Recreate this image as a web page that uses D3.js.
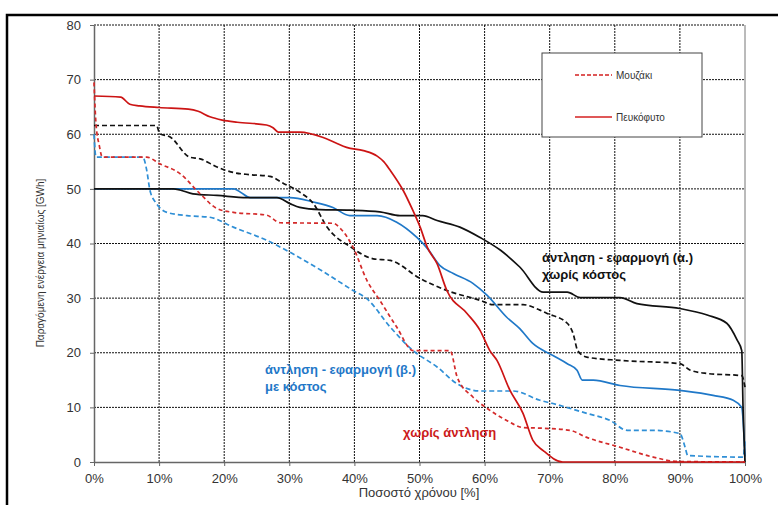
<!DOCTYPE html>
<html>
<head>
<meta charset="utf-8">
<script src="https://cdn.jsdelivr.net/npm/d3@7"></script>
<style>
  body { margin: 0; background: #fff; }
  svg { font-family: "Liberation Sans", Arial, sans-serif; }
</style>
</head>
<body>
<div id="chart"></div>
<script>
/* ------------------------------ Data ------------------------------ */

// Pefkofyto (solid) and Mouzaki (dashed): [time %, GWh]
const noPumpPefkofyto = [[0,67],[4.1,66.8],[5.5,65.5],[7,65.2],[10,64.9],[14.5,64.6],[16,64.2],[17.8,63.2],[19.7,62.6],[22,62.2],[26.5,61.7],[27.5,61.2],[28.3,60.4],[31.6,60.4],[35.2,59.4],[37,58.5],[38.8,57.6],[41.4,57.0],[43.5,56],[44.5,55],[45.5,53.4],[47.5,49.7],[49,46],[50.1,43],[51.2,39.3],[52.7,36.3],[54.2,31.4],[57.3,27.2],[59.3,24.1],[60.8,20.4],[61.9,18.6],[63.9,13.1],[65.9,8.9],[67.4,4.0],[69,2.1],[72,0],[100,0]];
const noPumpMouzaki = [[0,69.5],[0.3,62],[0.8,58],[1.3,55.8],[8.1,55.8],[10.1,54.6],[13.2,52.8],[16.3,49.1],[18.9,46.4],[21.4,45.7],[26.5,45.2],[28.6,43.8],[36.7,43.7],[37.8,42.8],[39.8,39.3],[41.9,33.3],[43.9,29.6],[46.5,24.7],[49,20.4],[54.7,20.4],[55.8,15.5],[58.2,11.9],[60.4,9.8],[63.4,7.6],[65.9,6.3],[68.5,6.2],[73.1,5.8],[75.7,4.5],[80.8,2.7],[85.9,0.9],[89.6,0.1],[100,0]];
const pumpAPefkofyto = [[0,50],[12.2,50],[13.2,49.8],[15.2,49.1],[18.9,48.8],[23.5,48.4],[28.1,48.4],[30.1,47.3],[31.6,46.6],[34.7,46.2],[39.3,46.1],[43.9,45.8],[47,45.1],[50.5,45.1],[52.7,44.2],[56.2,43],[59.3,41.1],[62.4,38.8],[65.4,35.7],[69,31.1],[72.7,31.1],[74.7,30.1],[80.8,30.1],[83.4,29],[90,28.1],[94.2,26.9],[97.2,25.4],[98.8,22.3],[99.5,20.4],[99.7,10],[100,0]];
const pumpAMouzaki = [[0,61.6],[9.6,61.6],[10.1,60.1],[11.7,59.5],[14.7,55.8],[16.3,55.5],[18.9,54],[21.4,53],[24,52.6],[27,52.3],[29.1,51],[31.6,49.4],[33.7,47.3],[35.8,43],[39.5,39.3],[42.9,37.2],[45.5,36.9],[50.1,33.6],[54.2,31.4],[59.3,29.6],[61.3,28.8],[65.9,28.8],[68.5,27.8],[69.6,27.2],[72.7,25.4],[73.6,23.5],[74.3,20.4],[75.7,19.2],[80.8,18.6],[90,18],[91.6,16.8],[94.2,16.2],[99.5,15.8],[100,13.7]];
const pumpBPefkofyto = [[0,50],[21.5,50],[22.5,49.4],[24,48.4],[30.1,48.4],[33.7,47.6],[36.7,46.6],[39.3,45.1],[43.5,45.1],[46.5,43.9],[49.6,41.1],[51.2,39.1],[53.1,36],[55.2,34.5],[58.2,32.7],[60.4,30.5],[63.4,26.5],[65.4,24.4],[67.4,21.7],[70.5,19.5],[72.7,18],[74.2,16.8],[75,15],[76.7,15],[80.8,14],[90,13.1],[95.1,12.2],[98.2,11.3],[99.5,10],[100,1]];
const pumpBMouzaki = [[0,60],[0.3,55.8],[7.5,55.8],[8.1,53.4],[8.6,49.7],[9.6,47.3],[11.2,45.7],[14.3,45.1],[17.8,44.8],[21.4,43],[26.5,40.6],[30.1,38.4],[35,35],[39.8,31.4],[41.9,29.9],[45.5,24.7],[49,20.4],[52.7,17.4],[55.8,14.3],[59.3,13],[64.4,13],[68.5,11.3],[70.5,10.7],[75.7,8.9],[79.3,7.6],[81.9,5.8],[85.9,5.8],[90,5.2],[90.8,2.7],[91.2,1.2],[99.7,0.9],[100,4]];

const xTicks = [0, 10, 20, 30, 40, 50, 60, 70, 80, 90, 100];
const yTicks = [0, 10, 20, 30, 40, 50, 60, 70, 80];

const legendNames = ["Μουζάκι", "Πευκόφυτο"];

/* ------------------------------ Chart ------------------------------ */

const width = 778, height = 505;
const margin = { top: 25, right: 33, bottom: 43, left: 94 };

const svg = d3.select('#chart').append('svg')
    .attr('width', width)
    .attr('height', height);

// outer frame (top + left)
svg.append('path')
    .attr('d', `M7,${height} L7,15 L${width},15`)
    .attr('fill', 'none')
    .attr('stroke', '#000')
    .attr('stroke-width', 2.5);

const xScale = d3.scaleLinear().domain([0, 100]).range([margin.left, width - margin.right]);
const yScale = d3.scaleLinear().domain([0, 80]).range([height - margin.bottom, margin.top]);

// grid
svg.append('g').selectAll('line')
    .data(xTicks.slice(1, -1))
    .enter().append('line')
    .attr('x1', d => xScale(d)).attr('x2', d => xScale(d))
    .attr('y1', yScale(0)).attr('y2', yScale(80))
    .attr('stroke', '#111').attr('stroke-width', 1).attr('stroke-dasharray', '2,1');

svg.append('g').selectAll('line')
    .data(yTicks.slice(1))
    .enter().append('line')
    .attr('x1', xScale(0)).attr('x2', xScale(100))
    .attr('y1', d => yScale(d)).attr('y2', d => yScale(d))
    .attr('stroke', '#111').attr('stroke-width', 1).attr('stroke-dasharray', '2,1');

// right border
svg.append('line')
    .attr('x1', xScale(100)).attr('x2', xScale(100))
    .attr('y1', yScale(0)).attr('y2', yScale(80))
    .attr('stroke', '#777').attr('stroke-width', 1);

// axes
const xAxis = svg.append('g')
    .attr('transform', `translate(0, ${yScale(0)})`)
    .call(d3.axisBottom(xScale).tickValues(xTicks).tickFormat(d => d + '%').tickSize(4).tickSizeOuter(0));
const yAxis = svg.append('g')
    .attr('transform', `translate(${xScale(0)}, 0)`)
    .call(d3.axisLeft(yScale).tickValues(yTicks).tickSize(4).tickSizeOuter(0));

[xAxis, yAxis].forEach(a => {
    a.select('.domain').attr('stroke', '#666').attr('stroke-width', 1.5);
    a.selectAll('.tick line').attr('stroke', '#666');
    a.selectAll('text').attr('fill', '#333').style('font-size', '13px')
        .style('font-family', '"Liberation Sans", Arial, sans-serif');
});
xAxis.selectAll('text').attr('dy', '1.1em');
yAxis.selectAll('text').attr('x', -13);

// series
const line = d3.line()
    .x(d => xScale(d[0]))
    .y(d => yScale(d[1]))
    .curve(d3.curveMonotoneX);

const series = [
    { data: pumpBMouzaki, color: '#2f8fd6', dash: '5,3' },
    { data: pumpBPefkofyto, color: '#1f78c8', dash: null },
    { data: pumpAMouzaki, color: '#111', dash: '5,3' },
    { data: pumpAPefkofyto, color: '#111', dash: null },
    { data: noPumpMouzaki, color: '#d42a2a', dash: '4,3' },
    { data: noPumpPefkofyto, color: '#cc1414', dash: null }
];

series.forEach(s => {
    svg.append('path')
        .datum(s.data)
        .attr('d', line)
        .attr('fill', 'none')
        .attr('stroke', s.color)
        .attr('stroke-width', 1.7)
        .attr('stroke-dasharray', s.dash);
});

// legend
const legend = svg.append('g');
legend.append('rect')
    .attr('x', 542).attr('y', 53).attr('width', 160).attr('height', 84)
    .attr('fill', '#fff').attr('stroke', '#444').attr('stroke-width', 1);

legendNames.forEach((name, i) => {
    const y = 75 + i * 42;
    legend.append('line')
        .attr('x1', 575).attr('x2', 612).attr('y1', y).attr('y2', y)
        .attr('stroke', '#d42020').attr('stroke-width', 1.7)
        .attr('stroke-dasharray', i === 0 ? '4,2' : null);
    legend.append('text')
        .attr('x', 616).attr('y', y + 4)
        .style('font-size', '10px').attr('fill', '#333')
        .text(name);
});

// annotations
function note(x, y, lines, color) {
    const t = svg.append('text')
        .attr('x', x).attr('y', y)
        .attr('fill', color)
        .style('font-size', '13px')
        .style('font-weight', 'bold');
    lines.forEach((l, i) => {
        t.append('tspan').attr('x', x).attr('dy', i === 0 ? 0 : 17).text(l);
    });
}
note(542, 262, ['άντληση - εφαρμογή (α.)', 'χωρίς κόστος'], '#111');
note(265, 374, ['άντληση - εφαρμογή (β.)', 'με κόστος'], '#1f78c8');
note(403, 437, ['χωρίς άντληση'], '#cc1a1a');

// axis titles
svg.append('text')
    .attr('x', 419).attr('y', 497)
    .attr('text-anchor', 'middle')
    .style('font-size', '13px').attr('fill', '#333')
    .text('Ποσοστό χρόνου [%]');

svg.append('text')
    .attr('transform', `translate(44, 263) rotate(-90)`)
    .attr('text-anchor', 'middle')
    .style('font-size', '10px').attr('fill', '#333')
    .text('Παραγόμενη ενέργεια μηνιαίως [GWh]');
</script>
</body>
</html>
